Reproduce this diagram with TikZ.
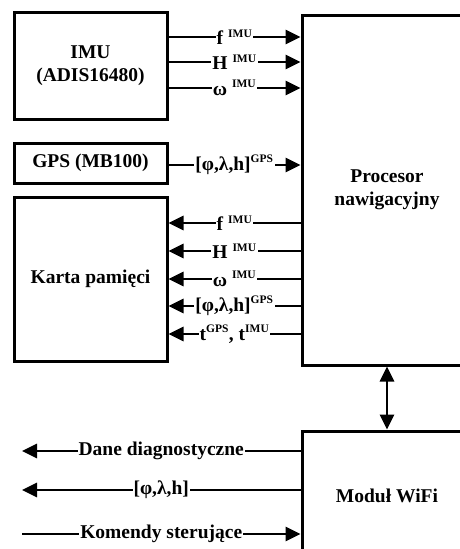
\documentclass[tikz,border=0pt]{standalone}
\usepackage{fontspec}
\setmainfont{Liberation Serif}
\usetikzlibrary{arrows.meta}
\tikzset{
  box/.style={draw, line width=3pt, inner sep=0pt, align=center,
    font=\fontsize{19.5}{23}\selectfont\bfseries},
  arr/.style={line width=2.8pt, -{Triangle[length=15pt,width=14pt]}},
  darr/.style={line width=2.8pt, {Triangle[length=15pt,width=14pt]}-{Triangle[length=15pt,width=14pt]}},
  lab/.style={fill=white, inner sep=1pt, font=\fontsize{19.5}{22}\selectfont\bfseries},
}
\newcommand{\sps}[1]{\textsuperscript{\fontsize{11.5}{12}\selectfont #1}}
\begin{document}
\begin{tikzpicture}[x=1pt,y=-1pt]
\clip (0,0) rectangle (460,549);
\fill[white] (0,0) rectangle (460,549);
\node[box, minimum width=153pt, minimum height=107pt] (imu) at (90.5,65.5) {IMU\\(ADIS16480)};
\node[box, minimum width=153pt, minimum height=40pt] (gps) at (90.5,163) {GPS (MB100)};
\node[box, minimum width=153pt, minimum height=164pt] (karta) at (90.5,279) {Karta pamięci};
\node[box, minimum width=170pt, minimum height=350pt] (proc) at (387,190) {Procesor\\nawigacyjny};
\node[box, minimum width=170pt, minimum height=130pt] (wifi) at (387,496) {Moduł WiFi};
% IMU -> processor
\draw[arr] (imu.east |- 0,37) -- node[lab]{f\hspace{5pt}\sps{IMU}} (proc.west |- 0,37);
\draw[arr] (imu.east |- 0,62) -- node[lab]{H\hspace{5pt}\sps{IMU}} (proc.west |- 0,62);
\draw[arr] (imu.east |- 0,88) -- node[lab]{ω\hspace{5pt}\sps{IMU}} (proc.west |- 0,88);
% GPS -> processor
\draw[arr] (gps.east |- 0,165) -- node[lab]{[φ,λ,h]\sps{GPS}} (proc.west |- 0,165);
% processor -> karta
\draw[arr] (proc.west |- 0,223) -- node[lab]{f\hspace{5pt}\sps{IMU}} (karta.east |- 0,223);
\draw[arr] (proc.west |- 0,251) -- node[lab]{H\hspace{5pt}\sps{IMU}} (karta.east |- 0,251);
\draw[arr] (proc.west |- 0,279) -- node[lab]{ω\hspace{5pt}\sps{IMU}} (karta.east |- 0,279);
\draw[arr] (proc.west |- 0,306) -- node[lab]{[φ,λ,h]\sps{GPS}} (karta.east |- 0,306);
\draw[arr] (proc.west |- 0,334) -- node[lab]{t\sps{GPS}, t\sps{IMU}} (karta.east |- 0,334);
% processor <-> wifi
\draw[darr] (proc.south -| 387,0) -- (wifi.north -| 387,0);
% wifi outputs
\coordinate (o1) at (22,451);
\coordinate (o2) at (22,490);
\coordinate (i3) at (22,534);
\draw[arr] (wifi.west |- o1) -- node[lab]{Dane diagnostyczne} (o1);
\draw[arr] (wifi.west |- o2) -- node[lab]{[φ,λ,h]} (o2);
\draw[arr] (i3) -- node[lab]{Komendy sterujące} (wifi.west |- i3);
\end{tikzpicture}
\end{document}
